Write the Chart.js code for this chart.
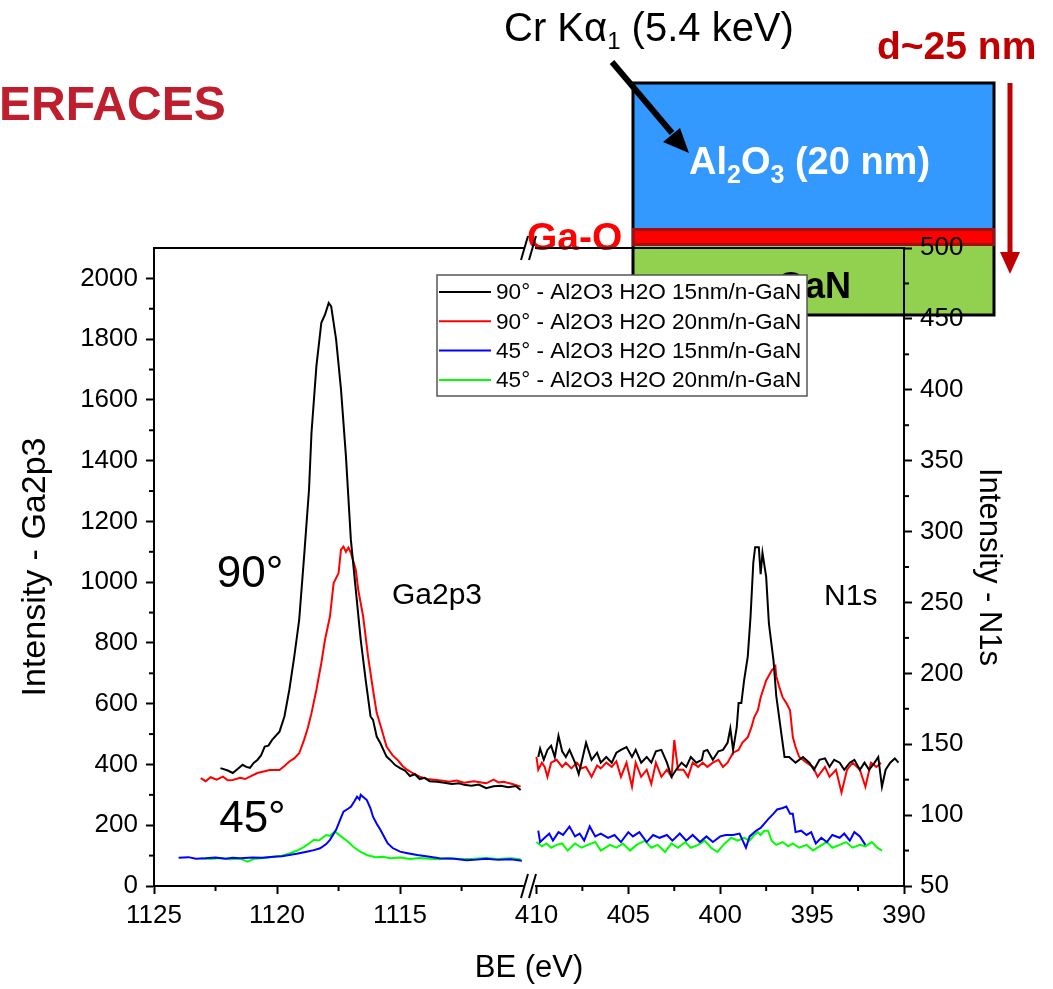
<!DOCTYPE html>
<html>
<head>
<meta charset="utf-8">
<script src="https://cdn.jsdelivr.net/npm/chart.js@4/dist/chart.umd.min.js"></script>
<style>
  html,body{margin:0;padding:0;background:#fff;}
  canvas{display:block;}
</style>
</head>
<body>
<canvas id="xps" width="1053" height="989"></canvas>
<script>
/* ---- data: Ga2p3 region (BE eV, counts) ---- */
const ga90_15 = [[1122.3,388],[1122.0,380],[1121.8,372],[1121.6,385],[1121.4,399],[1121.25,392],[1121.1,389],[1120.95,405],[1120.8,415],[1120.65,430],[1120.5,459],[1120.35,462],[1120.2,481],[1119.9,508],[1119.7,558],[1119.5,646],[1119.3,755],[1119.1,876],[1118.9,1085],[1118.7,1305],[1118.6,1492],[1118.4,1711],[1118.2,1854],[1118.05,1881],[1117.9,1919],[1117.8,1908],[1117.6,1799],[1117.4,1634],[1117.2,1414],[1117.0,1140],[1116.8,975],[1116.6,811],[1116.4,679],[1116.2,558],[1116.1,547],[1115.95,492],[1115.8,470],[1115.55,426],[1115.4,415],[1115.2,398],[1115.0,388],[1114.8,380],[1114.6,362],[1114.4,368],[1114.2,352],[1114.0,356],[1113.8,345],[1113.5,343],[1113.2,340],[1112.9,336],[1112.6,338],[1112.4,333],[1112.1,330],[1111.8,334],[1111.5,322],[1111.2,328],[1110.9,330],[1110.6,325],[1110.3,329],[1110.1,316]];
const ga90_20 = [[1123.1,355],[1122.9,345],[1122.7,358],[1122.45,350],[1122.2,360],[1122.0,348],[1121.8,349],[1121.5,356],[1121.3,352],[1121.1,360],[1120.8,372],[1120.5,378],[1120.3,382],[1119.9,382],[1119.7,395],[1119.5,410],[1119.3,420],[1119.1,437],[1118.9,481],[1118.75,520],[1118.6,569],[1118.4,646],[1118.2,734],[1118.05,811],[1117.85,887],[1117.7,997],[1117.5,1030],[1117.4,1107],[1117.3,1117],[1117.2,1100],[1117.1,1114],[1117.0,1097],[1116.8,1041],[1116.7,975],[1116.5,887],[1116.3,755],[1116.1,646],[1115.95,570],[1115.8,530],[1115.55,459],[1115.3,430],[1115.1,415],[1114.9,395],[1114.7,382],[1114.5,372],[1114.2,360],[1113.9,352],[1113.5,349],[1113.2,346],[1113.0,343],[1112.7,347],[1112.4,340],[1112.0,345],[1111.7,341],[1111.5,338],[1111.2,350],[1111.0,341],[1110.8,343],[1110.4,335],[1110.1,327]];
const ga45_15 = [[1124.0,93],[1123.6,95],[1123.3,90],[1122.9,91],[1122.5,94],[1122.1,90],[1121.8,93],[1121.5,91],[1121.0,94],[1120.6,93],[1120.15,96],[1119.8,98],[1119.5,102],[1119.2,106],[1118.8,113],[1118.5,118],[1118.25,124],[1118.0,138],[1117.85,152],[1117.6,185],[1117.4,225],[1117.3,245],[1117.1,255],[1117.0,261],[1116.85,280],[1116.75,294],[1116.65,285],[1116.6,300],[1116.45,290],[1116.35,283],[1116.2,255],[1116.1,228],[1115.95,205],[1115.8,185],[1115.6,155],[1115.5,140],[1115.3,125],[1115.0,113],[1114.7,108],[1114.3,102],[1113.8,96],[1113.4,91],[1112.8,90],[1112.3,85],[1112.0,86],[1111.5,90],[1111.0,86],[1110.5,88],[1110.05,83]];
const ga45_20 = [[1123.1,91],[1122.7,89],[1122.3,92],[1121.9,88],[1121.5,90],[1121.2,80],[1120.9,90],[1120.5,92],[1120.15,96],[1119.8,100],[1119.5,107],[1119.2,116],[1118.9,129],[1118.7,140],[1118.5,152],[1118.3,150],[1118.0,168],[1117.85,165],[1117.65,179],[1117.5,170],[1117.3,157],[1117.1,145],[1116.9,129],[1116.6,112],[1116.35,102],[1116.0,95],[1115.7,96],[1115.4,91],[1115.0,94],[1114.6,89],[1114.2,92],[1113.8,90],[1113.4,88],[1113.0,91],[1112.5,89],[1112.0,90],[1111.5,92],[1111.0,89],[1110.5,91],[1110.1,88]];

/* ---- data: N1s region ---- */
const n90_15 = [[409.9,141],[409.8,147],[409.6,139],[409.4,146],[409.2,149],[409.0,141],[408.8,156],[408.6,145],[408.4,141],[408.2,146],[407.9,137],[407.7,129],[407.55,137],[407.3,151],[407.0,139],[406.7,144],[406.5,137],[406.2,141],[405.9,137],[405.65,144],[405.4,146],[405.1,148],[404.8,141],[404.6,146],[404.3,137],[404.0,141],[403.75,137],[403.5,145],[403.2,146],[402.9,137],[402.65,127],[402.4,132],[402.1,137],[401.85,134],[401.6,141],[401.3,137],[401.0,139],[400.9,145],[400.7,146],[400.4,139],[400.1,145],[399.85,146],[399.6,151],[399.45,161],[399.3,146],[399.1,162],[399.0,179],[398.85,179],[398.7,195],[398.5,212],[398.35,240],[398.2,278],[398.1,289],[397.9,289],[397.8,270],[397.7,285],[397.5,268],[397.35,235],[397.1,209],[396.95,184],[396.7,160],[396.5,141],[396.25,141],[395.9,137],[395.5,141],[395.15,137],[394.9,132],[394.6,139],[394.3,140],[394.05,134],[393.8,139],[393.5,137],[393.25,132],[392.95,137],[392.7,139],[392.4,132],[392.15,137],[391.9,132],[391.6,137],[391.4,141],[391.2,120],[391.0,132],[390.75,137],[390.5,140],[390.3,137]];
const n90_20 = [[410.0,141],[409.9,132],[409.7,137],[409.55,134],[409.4,127],[409.2,137],[408.9,139],[408.6,134],[408.4,137],[408.1,133],[407.8,137],[407.55,133],[407.3,134],[407.0,127],[406.7,135],[406.5,133],[406.2,137],[405.9,134],[405.65,138],[405.4,127],[405.1,137],[404.8,120],[404.6,137],[404.3,127],[404.0,132],[403.75,122],[403.5,137],[403.2,127],[402.9,132],[402.65,127],[402.5,153],[402.3,132],[402.0,132],[401.75,127],[401.5,137],[401.2,134],[400.95,137],[400.7,134],[400.4,137],[400.1,139],[399.85,134],[399.6,137],[399.3,144],[399.0,146],[398.8,151],[398.5,155],[398.3,162],[398.15,169],[397.95,174],[397.8,183],[397.5,195],[397.2,202],[397.0,205],[396.95,198],[396.8,191],[396.6,183],[396.4,179],[396.2,174],[396.05,155],[395.9,148],[395.7,141],[395.3,137],[394.95,134],[394.7,127],[394.3,134],[394.05,127],[393.7,132],[393.4,116],[393.1,132],[392.8,137],[392.4,132],[392.1,120],[391.8,137],[391.5,134],[391.25,137]];
const n45_15 = [[409.9,89],[409.8,81],[409.55,84],[409.3,87],[409.1,82],[408.8,88],[408.55,86],[408.2,92],[407.9,85],[407.65,87],[407.4,82],[407.1,92],[406.8,85],[406.5,87],[406.1,84],[405.75,86],[405.4,81],[405.0,88],[404.75,85],[404.4,88],[404.0,81],[403.65,86],[403.3,84],[402.9,86],[402.6,82],[402.2,87],[401.85,82],[401.5,86],[401.1,81],[400.75,85],[400.4,81],[400.0,85],[399.7,86],[399.3,86],[398.95,87],[398.6,77],[398.4,85],[398.05,89],[397.8,91],[397.4,97],[397.1,101],[396.9,104],[396.6,105],[396.4,106],[396.2,101],[396.05,101],[395.9,88],[395.6,89],[395.3,86],[395.05,88],[394.8,80],[394.5,84],[394.2,81],[393.9,86],[393.5,84],[393.25,87],[392.95,82],[392.7,88],[392.4,85],[392.1,79]];
const n45_20 = [[410.0,81],[409.7,78],[409.45,80],[409.2,77],[408.9,79],[408.6,80],[408.3,75],[407.9,80],[407.55,77],[407.2,79],[406.8,81],[406.5,75],[406.0,79],[405.65,77],[405.3,80],[404.9,75],[404.55,79],[404.1,82],[403.75,77],[403.4,79],[403.0,74],[402.65,80],[402.3,77],[401.9,81],[401.6,77],[401.2,79],[400.85,82],[400.5,77],[400.15,74],[399.75,80],[399.4,84],[399.05,82],[398.7,84],[398.4,82],[398.15,86],[397.95,88],[397.8,86],[397.6,89],[397.4,89],[397.2,82],[396.95,79],[396.6,81],[396.3,78],[396.05,80],[395.7,77],[395.3,79],[394.95,75],[394.6,78],[394.2,81],[393.9,77],[393.5,79],[393.15,81],[392.8,77],[392.4,79],[392.1,78],[391.75,81],[391.45,77],[391.2,75]];

/* ---- labels, ticks ---- */
const seriesNames  = ['90° - Al2O3 H2O 15nm/n-GaN','90° - Al2O3 H2O 20nm/n-GaN','45° - Al2O3 H2O 15nm/n-GaN','45° - Al2O3 H2O 20nm/n-GaN'];
const seriesColors = ['#000000','#ff0000','#0000ff','#00ff00'];
const gaTicks  = [1125,1120,1115];
const gaMinor  = [1122.5,1117.5,1112.5];
const nTicks   = [410,405,400,395,390];
const nMinor   = [407.5,402.5,397.5,392.5];
const gaYTicks = [0,200,400,600,800,1000,1200,1400,1600,1800,2000];
const gaYMinor = [100,300,500,700,900,1100,1300,1500,1700,1900];
const nYTicks  = [50,100,150,200,250,300,350,400,450,500];
const nYMinor  = [75,125,175,225,275,325,375,425,475];

const FONT = '"Liberation Sans", Arial, sans-serif';
const pts  = a => a.map(p => ({x:p[0], y:p[1]}));

/* ---- layer sketch, drawn under the chart ---- */
function sub(ctx, parts, x, y){
  // parts: [text, size, dy, weight]
  for(const [t,sz,dy,w] of parts){
    ctx.font = (w||'') + ' ' + sz + 'px ' + FONT;
    ctx.fillText(t, x, y+dy);
    x += ctx.measureText(t).width;
  }
}

const sketch = {
  id:'sketch',
  beforeDraw(chart){
    const ctx = chart.ctx;
    ctx.save();
    ctx.fillStyle = '#fff'; ctx.fillRect(0,0,chart.width,chart.height);

    ctx.fillStyle = '#be1e2d'; ctx.font = 'bold 48px '+FONT;
    ctx.textBaseline = 'alphabetic'; ctx.textAlign = 'left';
    ctx.fillText('ERFACES', -1, 120);

    // stack
    ctx.fillStyle = '#3399ff'; ctx.fillRect(632,82,363,146);
    ctx.fillStyle = '#92d050'; ctx.fillRect(632,246,363,70);
    ctx.strokeStyle = '#000'; ctx.lineWidth = 3; ctx.strokeRect(633,83,361,232);
    ctx.fillStyle = '#ff0000'; ctx.fillRect(632,228,363,18);
    ctx.strokeStyle = '#a01010'; ctx.lineWidth = 3; ctx.strokeRect(633.5,229.5,360,15);

    ctx.fillStyle = '#fff';
    sub(ctx, [['Al',38,0,'bold'],['2',25,9,'bold'],['O',38,0,'bold'],['3',25,9,'bold'],[' (20 nm)',38,0,'bold']], 689, 174);
    ctx.fillStyle = '#000'; ctx.font = 'bold 36px '+FONT; ctx.textAlign = 'center';
    ctx.fillText('GaN', 814, 298);
    ctx.textAlign = 'left';
    ctx.fillStyle = '#ff0000'; ctx.font = 'bold 39px '+FONT;
    ctx.fillText('Ga-O', 527, 250);

    ctx.fillStyle = '#000';
    sub(ctx, [['Cr K',40,0],['\u03b1',40,0],['1',24,8],[' (5.4 keV)',40,0]], 504, 41);

    // incident beam arrow
    ctx.strokeStyle = '#000'; ctx.lineWidth = 6; ctx.lineCap = 'butt';
    ctx.beginPath(); ctx.moveTo(612,62); ctx.lineTo(672,133); ctx.stroke();
    ctx.beginPath(); ctx.moveTo(689,153); ctx.lineTo(663,142); ctx.lineTo(680,128); ctx.closePath(); ctx.fill();

    // depth arrow
    ctx.fillStyle = '#c00000'; ctx.strokeStyle = '#c00000';
    ctx.font = 'bold 39px '+FONT; ctx.fillText('d~25 nm', 877, 59);
    ctx.lineWidth = 5;
    ctx.beginPath(); ctx.moveTo(1010,83); ctx.lineTo(1010,256); ctx.stroke();
    ctx.beginPath(); ctx.moveTo(1000,252); ctx.lineTo(1020,252); ctx.lineTo(1010,274); ctx.closePath(); ctx.fill();
    ctx.restore();
  }
};

/* ---- frame, minor ticks, breaks, notes, legend ---- */
const extras = {
  id:'extras',
  afterDraw(chart){
    const ctx = chart.ctx, s = chart.scales, a = chart.chartArea;
    ctx.save();
    ctx.strokeStyle = '#000'; ctx.lineWidth = 2;

    // minor ticks
    const seg = (x1,y1,x2,y2) => { ctx.beginPath(); ctx.moveTo(x1,y1); ctx.lineTo(x2,y2); ctx.stroke(); };
    gaYMinor.forEach(v => { const y = s.yl.getPixelForValue(v); seg(a.left,y,a.left-5,y); });
    nYMinor.forEach(v => { const y = s.yr.getPixelForValue(v); seg(a.right,y,a.right+5,y); });
    gaMinor.forEach(v => { const x = s.xl.getPixelForValue(v); seg(x,a.bottom,x,a.bottom+5); });
    nMinor.forEach(v => { const x = s.xr.getPixelForValue(v); seg(x,a.bottom,x,a.bottom+5); });

    // top frame
    seg(a.left, a.top, a.right, a.top);

    // axis breaks
    const J = s.xl.right;
    [a.top, a.bottom].forEach(y => {
      ctx.fillStyle = '#fff'; ctx.fillRect(J-5, y-2, 10, 4);
      seg(J-9, y+12, J-2, y-12);
      seg(J-1, y+12, J+6, y-12);
    });

    // annotations
    ctx.fillStyle = '#000'; ctx.textAlign = 'center'; ctx.textBaseline = 'middle';
    ctx.font = '44px '+FONT;
    ctx.fillText('90°', s.xl.getPixelForValue(1121.1), s.yl.getPixelForValue(1025));
    ctx.fillText('45°', s.xl.getPixelForValue(1121.0), s.yl.getPixelForValue(217));
    ctx.font = '30px '+FONT;
    ctx.fillText('Ga2p3', s.xl.getPixelForValue(1113.5), s.yl.getPixelForValue(955));
    ctx.fillText('N1s', s.xr.getPixelForValue(392.9), s.yr.getPixelForValue(254));

    // x title spanning both panels
    ctx.font = '31px '+FONT;
    ctx.fillText('BE (eV)', (s.xl.left + s.xr.right)/2, 968);

    // legend
    const lx = 437, ly = 275, lw = 370, lh = 121;
    ctx.fillStyle = '#fff'; ctx.fillRect(lx,ly,lw,lh);
    ctx.strokeStyle = '#555'; ctx.lineWidth = 1.5; ctx.strokeRect(lx,ly,lw,lh);
    ctx.textAlign = 'left'; ctx.font = '22.6px '+FONT;
    seriesNames.forEach((n,i) => {
      const y = ly + 17 + i*29.3;
      ctx.strokeStyle = seriesColors[i]; ctx.lineWidth = 2;
      seg(lx+2, y, lx+54, y);
      ctx.fillStyle = '#000'; ctx.fillText(n, lx+59, y+1);
    });
    ctx.restore();
  }
};

/* ---- chart ---- */
const axisBase = {
  type:'linear',
  grid:{drawOnChartArea:false, drawTicks:true, tickLength:8, tickWidth:2, tickColor:'#000'},
  border:{display:true, color:'#000', width:2},
};
const fixTicks = list => s => { s.ticks = list.map(v => ({value:v})); };

new Chart(document.getElementById('xps'), {
  type:'line',
  data:{
    datasets:[
      {label:seriesNames[0], data:pts(ga90_15), borderColor:seriesColors[0], xAxisID:'xl', yAxisID:'yl'},
      {label:seriesNames[1], data:pts(ga90_20), borderColor:seriesColors[1], xAxisID:'xl', yAxisID:'yl'},
      {label:seriesNames[2], data:pts(ga45_15), borderColor:seriesColors[2], xAxisID:'xl', yAxisID:'yl'},
      {label:seriesNames[3], data:pts(ga45_20), borderColor:seriesColors[3], xAxisID:'xl', yAxisID:'yl'},
      {label:seriesNames[0], data:pts(n90_15), borderColor:seriesColors[0], xAxisID:'xr', yAxisID:'yr'},
      {label:seriesNames[1], data:pts(n90_20), borderColor:seriesColors[1], xAxisID:'xr', yAxisID:'yr'},
      {label:seriesNames[2], data:pts(n45_15), borderColor:seriesColors[2], xAxisID:'xr', yAxisID:'yr'},
      {label:seriesNames[3], data:pts(n45_20), borderColor:seriesColors[3], xAxisID:'xr', yAxisID:'yr'}
    ]
  },
  options:{
    responsive:false, animation:false,
    layout:{padding:{top:248, left:0, right:0, bottom:0}},
    elements:{line:{borderWidth:2, tension:0, fill:false}, point:{radius:0}},
    plugins:{legend:{display:false}, tooltip:{enabled:false}},
    scales:{
      xl:{...axisBase, position:'bottom', stack:'be', stackWeight:376, reverse:true, min:1109.72, max:1125,
          afterBuildTicks:fixTicks(gaTicks), afterFit:s => { s.height = 103; },
          ticks:{color:'#000', autoSkip:false, maxRotation:0, padding:6, font:{family:FONT, size:26}, callback:v => String(v)}},
      xr:{...axisBase, position:'bottom', stack:'be', stackWeight:374, reverse:true, min:390, max:410.35,
          afterBuildTicks:fixTicks(nTicks), afterFit:s => { s.height = 103; },
          ticks:{color:'#000', autoSkip:false, maxRotation:0, padding:6, font:{family:FONT, size:26}, callback:v => String(v)}},
      yl:{...axisBase, position:'left', min:0, max:2100,
          afterBuildTicks:fixTicks(gaYTicks), afterFit:s => { s.width = 154; },
          ticks:{color:'#000', padding:8, font:{family:FONT, size:26}, callback:v => String(v)},
          title:{display:true, text:'Intensity - Ga2p3', color:'#000', font:{family:FONT, size:34}, padding:{top:15}}},
      yr:{...axisBase, position:'right', min:50, max:500,
          afterBuildTicks:fixTicks(nYTicks), afterFit:s => { s.width = 149; },
          ticks:{color:'#000', padding:8, font:{family:FONT, size:26}, callback:v => String(v)},
          title:{display:true, text:'Intensity - N1s', color:'#000', font:{family:FONT, size:31}, padding:{top:46}}}
    }
  },
  plugins:[sketch, extras]
});
</script>
</body>
</html>
